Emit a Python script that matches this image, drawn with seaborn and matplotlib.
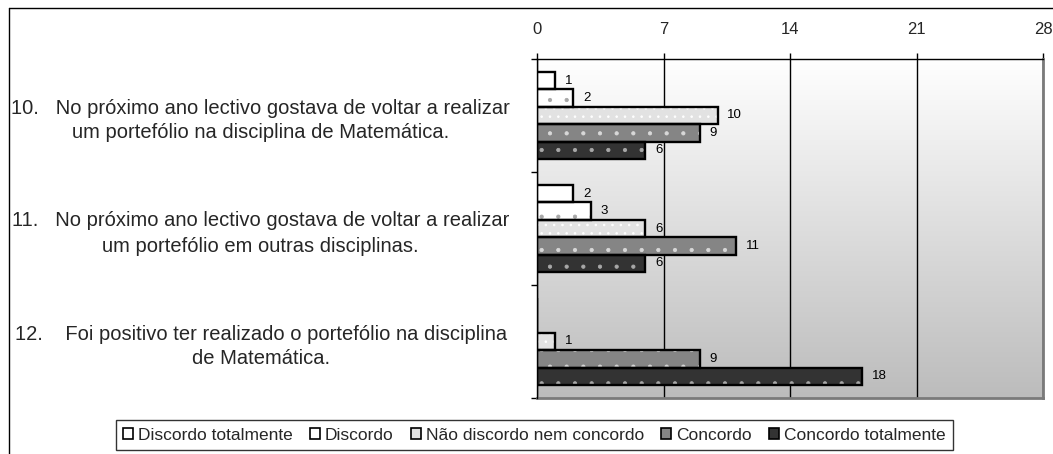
import numpy as np
import pandas as pd
import matplotlib
matplotlib.use("Agg")
import matplotlib.pyplot as plt
from matplotlib.patches import Patch
from matplotlib.lines import Line2D
import seaborn as sns

# ---- data ----
questions = [
    "10.   No próximo ano lectivo gostava de voltar a realizar\num portefólio na disciplina de Matemática.",
    "11.   No próximo ano lectivo gostava de voltar a realizar\num portefólio em outras disciplinas.",
    "12.    Foi positivo ter realizado o portefólio na disciplina\nde Matemática.",
]
responses = ["Discordo totalmente", "Discordo", "Não discordo nem concordo",
             "Concordo", "Concordo totalmente"]
discordo_totalmente = [1, 2, 0]
discordo = [2, 3, 0]
nao_discordo = [10, 6, 1]
concordo = [9, 11, 9]
concordo_totalmente = [6, 6, 18]
x_ticks = [0, 7, 14, 21, 28]

# ---- styles ----
fills = ["#ffffff", "#ffffff", "#e2e2e2", "#858585", "#333333"]
hatches = ["", ".", "..", ".", "."]
hatch_colors = ["#ffffff", "#a8a8a8", "#ffffff", "#d8d8d8", "#a8a8a8"]

series = [discordo_totalmente, discordo, nao_discordo, concordo, concordo_totalmente]
rows = []
for r, vals in zip(responses, series):
    for q, v in zip(questions, vals):
        rows.append({"q": q, "resp": r, "value": v})
df = pd.DataFrame(rows)

sns.set_theme(style="white")
plt.rcParams["font.family"] = ["Liberation Sans", "DejaVu Sans"]
plt.rcParams["hatch.linewidth"] = 0.6

fig = plt.figure(figsize=(10.53, 4.54), dpi=100)
ax = fig.add_axes([537 / 1053, 1 - 398 / 454, (1043 - 537) / 1053, (398 - 59) / 454])

# gradient background
grad = np.linspace(1.0, 0.0, 256).reshape(-1, 1)
cmap = matplotlib.colors.LinearSegmentedColormap.from_list("bg", ["#bcbcbc", "#ffffff"])
ax.imshow(grad, aspect="auto", cmap=cmap, extent=[0, 1, 0, 1],
          transform=ax.transAxes, zorder=0, interpolation="bilinear")

# fill layer with hatches
sns.barplot(data=df, y="q", x="value", hue="resp", hue_order=responses,
            order=questions, orient="h", palette=fills, saturation=1,
            width=0.77, linewidth=0, legend=False, ax=ax, zorder=2)
for cont, h, hc in zip(ax.containers, hatches, hatch_colors):
    for p in cont:
        p.set_hatch(h)
        p.set_edgecolor(hc)
        p.set_linewidth(0)
n_fill = len(ax.containers)

# outline layer
sns.barplot(data=df, y="q", x="value", hue="resp", hue_order=responses,
            order=questions, orient="h", palette=["black"] * 5, fill=False,
            width=0.77, linewidth=1.7, legend=False, ax=ax, zorder=3)

for cont, vals in zip(ax.containers[n_fill:], series):
    labels = [str(v) if v > 0 else "" for v in vals]
    ax.bar_label(cont, labels=labels, padding=7, fontsize=9.5, color="black")

ax.set_xlim(0, 28)
ax.set_ylim(2.5, -0.5)
ax.set_xticks(x_ticks)
ax.set_xticklabels([str(t) for t in x_ticks])
ax.xaxis.tick_top()
ax.tick_params(axis="x", which="major", direction="out", length=4, width=1,
               color="black", pad=12, labelsize=12, top=True, bottom=False)
ax.grid(axis="x", color="black", linewidth=1, zorder=1)
ax.set_axisbelow(True)
ax.set_xlabel("")
ax.set_ylabel("")

ax.set_yticks(range(len(questions)))
ax.set_yticklabels(questions, ha="center", multialignment="center", fontsize=14.5,
                   linespacing=1.4)
ax.tick_params(axis="y", which="major", length=0, pad=199, left=True)
ax.set_yticks([-0.5, 0.5, 1.5, 2.5], minor=True)
ax.tick_params(axis="y", which="minor", length=4, width=1, color="black", left=True)

for s in ["left", "top"]:
    ax.spines[s].set_color("black")
    ax.spines[s].set_linewidth(1)
for s in ["right", "bottom"]:
    ax.spines[s].set_color("#7a7a7a")
    ax.spines[s].set_linewidth(2)
ax.spines["left"].set_zorder(4)

# legend
handles = [Patch(facecolor=f, edgecolor="black", linewidth=1.2) for f in fills]
leg = fig.legend(handles, responses, loc="center", bbox_to_anchor=(534.5 / 1053, 1 - 435 / 454),
                 ncol=5, frameon=True, fontsize=12.5, handlelength=0.55, handleheight=0.55,
                 handletextpad=0.3, columnspacing=1.0, borderpad=0.45, fancybox=False)
leg.get_frame().set_edgecolor("black")
leg.get_frame().set_linewidth(1)

# figure frame lines
fig.add_artist(Line2D([9 / 1053, 9 / 1053], [0, 1 - 8 / 454], color="black", linewidth=1))
fig.add_artist(Line2D([9 / 1053, 1], [1 - 8 / 454, 1 - 8 / 454], color="black", linewidth=1))

fig.savefig("out.png", dpi=100, facecolor="white")
